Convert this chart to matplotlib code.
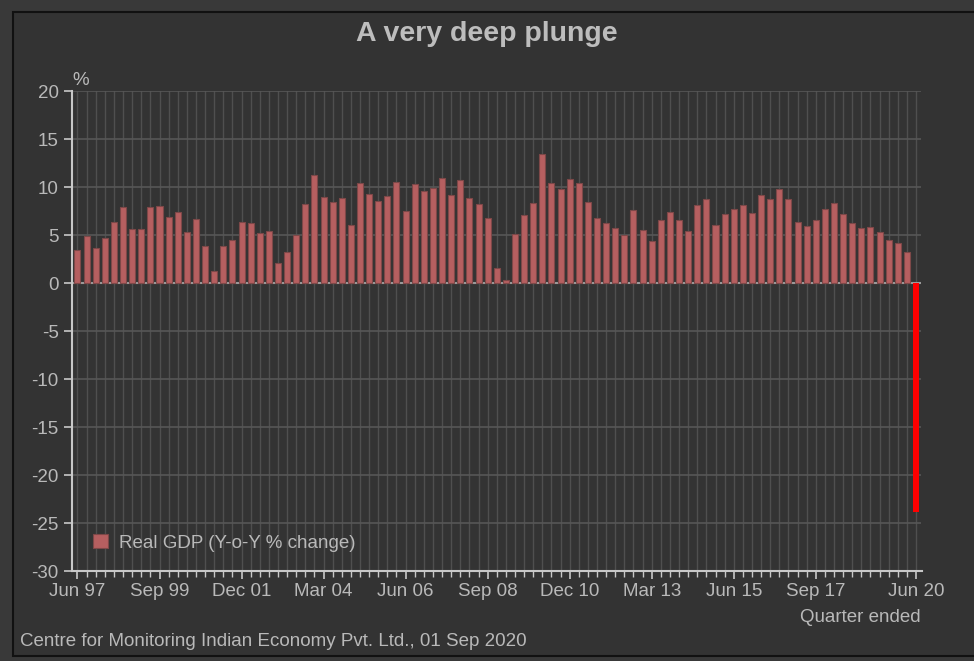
import matplotlib
matplotlib.use("Agg")
import matplotlib.pyplot as plt
from matplotlib.patches import Rectangle
import numpy as np

plt.rcParams['font.family'] = ['Liberation Sans', 'DejaVu Sans']
plt.rcParams['axes.unicode_minus'] = False

# Real GDP, year-on-year % change, quarters Jun 1997 .. Jun 2020
gdp_growth = [
    3.4, 4.9, 3.6, 4.7, 6.4, 7.9, 5.6, 5.6, 7.9, 8.0,
    6.9, 7.4, 5.3, 6.7, 3.9, 1.2, 3.9, 4.5, 6.4, 6.2,
    5.2, 5.4, 2.1, 3.2, 5.0, 8.2, 11.3, 9.0, 8.4, 8.9,
    6.0, 10.4, 9.3, 8.5, 9.1, 10.5, 7.5, 10.3, 9.6, 9.9,
    10.9, 9.2, 10.7, 8.9, 8.2, 6.8, 1.6, 0.3, 5.1, 7.1,
    8.3, 13.4, 10.4, 9.8, 10.8, 10.4, 8.4, 6.8, 6.3, 5.7,
    5.0, 7.6, 5.5, 4.4, 6.6, 7.4, 6.6, 5.4, 8.1, 8.8,
    6.0, 7.2, 7.7, 8.1, 7.3, 9.2, 8.8, 9.8, 8.7, 6.4,
    5.9, 6.6, 7.7, 8.3, 7.2, 6.3, 5.7, 5.8, 5.3, 4.5,
    4.2, 3.2, -23.9,
]

months = ["Jun", "Sep", "Dec", "Mar"]
quarters = []
for i in range(len(gdp_growth)):
    m = months[i % 4]
    yr = 1997 + (i + 3) // 4 if m == "Mar" else 1997 + i // 4
    quarters.append(f"{m} {yr % 100:02d}")

tick_labels = ["Jun 97", "Sep 99", "Dec 01", "Mar 04", "Jun 06", "Sep 08",
               "Dec 10", "Mar 13", "Jun 15", "Sep 17", "Jun 20"]

BG = "#333333"
TXT = "#b9b9b9"
BAR = "#b65f60"
BAR_EDGE = "#7e4848"

fig = plt.figure(figsize=(9.74, 6.61), dpi=100, facecolor="#393939")
fig.patches.append(Rectangle((13 / 974, 1 - 656 / 661), 1.0, (656 - 12) / 661,
                             transform=fig.transFigure, facecolor=BG,
                             edgecolor="#111111", linewidth=1.5, zorder=-5))

ax = fig.add_axes([72 / 974, 1 - 571 / 661, (921.5 - 72) / 974, (571 - 91) / 661])
ax.set_zorder(2)
ax.set_facecolor(BG)

x = np.arange(len(gdp_growth))
vals = np.array(gdp_growth)
last = len(vals) - 1

ax.bar(x[:last], vals[:last], width=0.66, color=BAR, edgecolor=BAR_EDGE,
       linewidth=0.8, zorder=3, label="Real GDP (Y-o-Y % change)")
ax.bar(x[last:], vals[last:], width=0.66, color="#ff0000", linewidth=0, zorder=3)

ax.set_xlim(-0.6, last + 0.6)
ax.set_ylim(-30, 20)
ax.set_yticks(np.arange(-30, 21, 5))

# grid: one vertical line per quarter, horizontal every 5 points
for xi in x:
    ax.axvline(xi, color="#4f4f4f", linewidth=1.0, zorder=1)
for yv in np.arange(-25, 21, 5):
    ax.axhline(yv, color="#575757", linewidth=1.2, zorder=1)
ax.axhline(0, color="#9a9a9a", linewidth=1.5, zorder=2)

major_pos = [quarters.index(t) for t in tick_labels]
ax.set_xticks(major_pos)
ax.set_xticklabels(tick_labels)
ax.set_xticks(x, minor=True)

for s in ["top", "right"]:
    ax.spines[s].set_visible(False)
for s in ["left", "bottom"]:
    ax.spines[s].set_color("#c8c8c8")
    ax.spines[s].set_linewidth(1.5)

ax.tick_params(axis="both", which="major", colors="#c8c8c8", labelcolor=TXT,
               labelsize=13.5, length=6, width=1.2)
ax.tick_params(axis="x", which="minor", colors="#c8c8c8", length=4, width=1.0)
ax.tick_params(axis="x", which="major", pad=3)

ax.text(0.0, 1.005, "%", transform=ax.transAxes, color=TXT, fontsize=13.5,
        ha="left", va="bottom")

leg = ax.legend(loc="lower left", frameon=False, fontsize=13.5,
                handlelength=0.8, handleheight=0.8, handletextpad=0.6,
                borderaxespad=0.5, bbox_to_anchor=(0.005, 0.005))
for t in leg.get_texts():
    t.set_color(TXT)

fig.text(0.5, 1 - 34 / 661, "A very deep plunge", ha="center", va="center",
         fontsize=20.5, fontweight="bold", color="#bdbdbd")
fig.text(921 / 974, 1 - 617 / 661, "Quarter ended", ha="right", va="center",
         fontsize=13.5, color=TXT)
fig.text(20 / 974, 1 - 641 / 661,
         "Centre for Monitoring Indian Economy Pvt. Ltd., 01 Sep 2020",
         ha="left", va="center", fontsize=13.5, color=TXT)

fig.savefig("out.png", dpi=100, facecolor=fig.get_facecolor())
